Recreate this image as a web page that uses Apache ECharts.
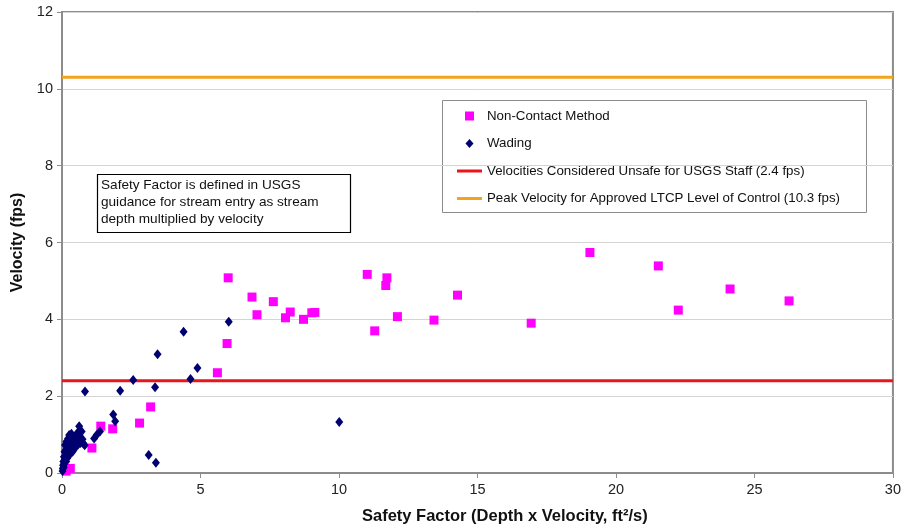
<!DOCTYPE html>
<html>
<head>
<meta charset="utf-8">
<script src="https://cdn.jsdelivr.net/npm/echarts@6/dist/echarts.min.js"></script>
<style>html,body{margin:0;padding:0;background:#fff}#c{width:904px;height:529px}</style>
</head>
<body>
<div id="c"></div>
<script>
// ---- data ----
var seriesNames = ['Non-Contact Method', 'Wading', 'Velocities Considered Unsafe for USGS Staff (2.4 fps)', 'Peak Velocity for Approved LTCP Level of Control (10.3 fps)'];
var nonContact = [
  [0.15,0.05],[0.3,0.12],[1.08,0.65],[1.4,1.22],[1.83,1.15],[2.8,1.30],[3.2,1.72],
  [5.61,2.61],[5.96,3.37],[6.0,5.08],[6.86,4.58],[7.04,4.12],[7.63,4.46],[8.07,4.04],[8.24,4.19],
  [8.72,4.0],[9.02,4.17],[9.13,4.18],[11.02,5.17],[11.29,3.70],[11.69,4.88],[11.73,5.08],
  [12.11,4.07],[13.43,3.98],[14.28,4.63],[16.94,3.90],[19.06,5.74],[21.53,5.39],[22.25,4.24],
  [24.12,4.79],[26.25,4.48]
];
var wading = [
  [0.02,0.05],[0.03,0.12],[0.04,0.2],[0.05,0.3],[0.06,0.15],[0.07,0.42],[0.08,0.25],[0.09,0.55],
  [0.1,0.35],[0.11,0.73],[0.12,0.45],[0.14,0.6],[0.15,0.3],[0.16,0.82],[0.18,0.5],[0.2,0.68],
  [0.2,0.4],[0.22,0.9],[0.24,0.58],[0.26,0.99],[0.28,0.48],[0.3,0.75],[0.32,0.62],[0.34,1.02],
  [0.36,0.85],[0.38,0.55],[0.41,0.86],[0.41,0.60],[0.44,0.72],[0.47,0.95],[0.5,0.68],[0.53,0.82],
  [0.56,1.05],[0.58,0.74],[0.62,1.22],[0.64,0.92],[0.67,0.78],[0.71,1.08],[0.74,0.88],[0.77,0.77],
  [0.82,0.72],[0.83,2.12],[1.16,0.90],[1.25,0.99],[1.37,1.08],[1.85,1.52],[1.92,1.35],[2.10,2.14],
  [2.57,2.42],[3.13,0.47],[3.36,2.23],[3.39,0.27],[3.45,3.09],[4.39,3.68],[4.64,2.45],[4.89,2.73],
  [6.02,3.94],[10.01,1.33]
];
var unsafeVel = [[0,2.4],[30,2.4]];
var peakVel = [[0,10.3],[30,10.3]];
var xTicks = {min:0, max:30, interval:5};
var yTicks = {min:0, max:12, interval:2};
var noteLines = ['Safety Factor is defined in USGS', 'guidance for stream entry as stream', 'depth multiplied by velocity'];

var font = 'Liberation Sans, Arial, sans-serif';
var chart = echarts.init(document.getElementById('c'), null, {renderer:'canvas'});
chart.setOption({
  animation:false,
  backgroundColor:'#fff',
  textStyle:{fontFamily:font},
  grid:{left:62, top:12, right:8, bottom:56, show:true, borderColor:'#8c8c8c', borderWidth:2, backgroundColor:'transparent'},
  xAxis:{type:'value', min:xTicks.min, max:xTicks.max, interval:xTicks.interval,
    axisLine:{show:true, lineStyle:{color:'#8c8c8c', width:2}},
    axisTick:{show:true, length:5, lineStyle:{color:'#8c8c8c'}},
    axisLabel:{color:'#222', fontSize:14.5, fontFamily:font, margin:9},
    splitLine:{show:false}},
  yAxis:{type:'value', min:yTicks.min, max:yTicks.max, interval:yTicks.interval,
    name:'Velocity (fps)', nameLocation:'middle', nameGap:36,
    nameTextStyle:{fontSize:16, fontWeight:'bold', color:'#111', fontFamily:font},
    axisLine:{show:true, lineStyle:{color:'#8c8c8c', width:2}},
    axisTick:{show:true, length:5, lineStyle:{color:'#8c8c8c'}},
    axisLabel:{color:'#222', fontSize:14.5, fontFamily:font, margin:9},
    splitLine:{show:true, lineStyle:{color:'#d4d4d4', width:1}}},
  legend:{
    orient:'vertical', left:457, top:109, padding:0, itemWidth:25, itemHeight:9, itemGap:13.5,
    symbolKeepAspect:true,
    textStyle:{fontSize:13.3, color:'#111', fontFamily:font, lineHeight:14},
    data:[
      {name:seriesNames[0], icon:'path://M0,0L9,0L9,9L0,9Z'},
      {name:seriesNames[1], icon:'path://M4,0L8,4.5L4,9L0,4.5Z'},
      {name:seriesNames[2], icon:'path://M0,0L25,0L25,3L0,3Z'},
      {name:seriesNames[3], icon:'path://M0,0L25,0L25,3L0,3Z'}
    ]
  },
  graphic:[
    {type:'rect', shape:{x:442.5, y:100.5, width:424, height:112}, style:{fill:'#fff', stroke:'#8c8c8c', lineWidth:1}, z:-1, silent:true},
    {type:'rect', shape:{x:97.5, y:174.5, width:253, height:58}, style:{fill:'#fff', stroke:'#000', lineWidth:1.2}, z:10},
    {type:'text', left:101, top:177, z:11, style:{text:noteLines.join('\n'), font:'13.6px '+font, fill:'#111', lineHeight:16.7}},
    {type:'text', left:362, top:508, style:{text:'Safety Factor (Depth x Velocity, ft²/s)', font:'bold 16.5px '+font, fill:'#111'}}
  ],
  series:[
    {name:seriesNames[2], type:'line', data:unsafeVel, symbol:'none', lineStyle:{color:'#e8161c', width:3}, itemStyle:{color:'#e8161c'}, z:2},
    {name:seriesNames[3], type:'line', data:peakVel, symbol:'none', lineStyle:{color:'#f4a41c', width:3}, itemStyle:{color:'#f4a41c'}, z:2},
    {name:seriesNames[0], type:'scatter', data:nonContact, symbol:'rect', symbolSize:9, itemStyle:{color:'#ff00ff', opacity:1}, z:3},
    {name:seriesNames[1], type:'scatter', data:wading, symbol:'diamond', symbolSize:[8,10], itemStyle:{color:'#000070', opacity:1}, z:4}
  ]
});
</script>
</body>
</html>
